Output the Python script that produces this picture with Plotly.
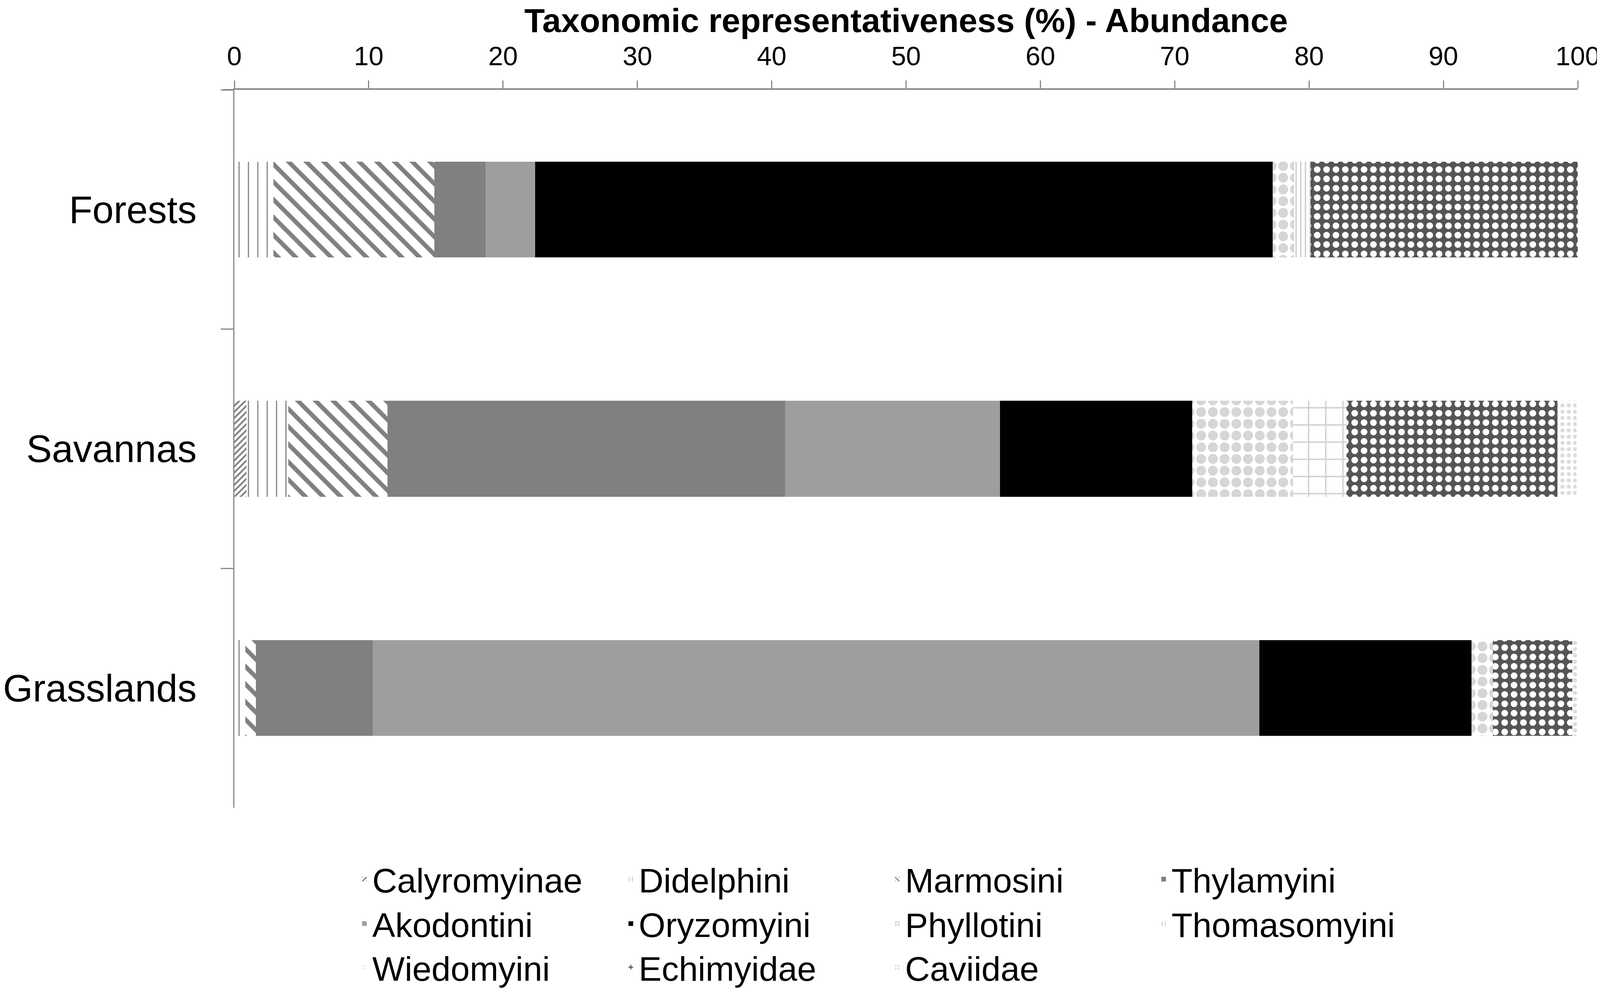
import plotly.graph_objects as go

# habitats, top to bottom
habitats = ["Forests", "Savannas", "Grasslands"]

# abundance share (%) per taxon, in habitat order
calyromyinae = [0.0, 0.9, 0.0]
didelphini = [2.9, 3.1, 0.8]
marmosini = [12.0, 7.4, 0.8]
thylamyini = [3.8, 29.6, 8.7]
akodontini = [3.7, 16.0, 66.0]
oryzomyini = [54.9, 14.3, 15.8]
phyllotini = [1.6, 7.5, 1.6]
thomasomyini = [1.2, 0.0, 0.0]
wiedomyini = [0.0, 4.0, 0.0]
echimyidae = [19.9, 15.7, 5.9]
caviidae = [0.0, 1.4, 0.4]

x_ticks = list(range(0, 101, 10))

W, H = 4101, 2545
ML, MR, MT, MB = 592, 70, 222, 479
plot_h = H - MT - MB

# name, values, colour, pattern(shape, fg, bg, size, solidity), legend row
taxa = [
    ("Calyromyinae", calyromyinae, "white", ("/", "#808080", "white", 11, 0.4), "legend"),
    ("Didelphini", didelphini, "white", ("|", "#808080", "white", 24, 0.12), "legend"),
    ("Marmosini", marmosini, "white", ("\\", "#808080", "white", 32, 0.35), "legend"),
    ("Thylamyini", thylamyini, "#808080", None, "legend"),
    ("Akodontini", akodontini, "#9e9e9e", None, "legend2"),
    ("Oryzomyini", oryzomyini, "#000000", None, "legend2"),
    ("Phyllotini", phyllotini, "white", (".", "#d6d6d6", "white", 30, 0.55), "legend2"),
    ("Thomasomyini", thomasomyini, "white", ("|", "#d0d0d0", "white", 12, 0.3), "legend2"),
    ("Wiedomyini", wiedomyini, "white", ("+", "#d0d0d0", "white", 44, 0.15), "legend3"),
    ("Echimyidae", echimyidae, "#555555", (".", "white", "#555555", 24, 0.4), "legend3"),
    ("Caviidae", caviidae, "white", (".", "#dcdcdc", "white", 16, 0.35), "legend3"),
]

fig = go.Figure()
for name, vals, col, pat, leg in taxa:
    marker = dict(color=col, line=dict(width=0))
    if pat:
        marker["pattern"] = dict(shape=pat[0], fgcolor=pat[1], bgcolor=pat[2],
                                 size=pat[3], solidity=pat[4], fillmode="replace")
    fig.add_trace(go.Bar(x=vals, y=habitats, orientation="h", name=name,
                         marker=marker, legend=leg))

def row_legend(y_px):
    return dict(orientation="h", traceorder="normal",
                x=0.091, xanchor="left", y=-(y_px - (H - MB)) / plot_h, yanchor="middle",
                entrywidth=637, font=dict(family="Liberation Sans", size=88, color="black"),
                bgcolor="rgba(0,0,0,0)", itemwidth=30)

fig.update_layout(
    width=W, height=H,
    barmode="stack", bargap=0.6,
    plot_bgcolor="white", paper_bgcolor="white",
    margin=dict(l=ML, r=MR, t=MT, b=MB),
    font=dict(family="Liberation Sans", color="black"),
    title=dict(text="<b>Taxonomic representativeness (%) - Abundance</b>",
               x=0.5, xref="paper", y=1 - 14 / H, yref="container", yanchor="top",
               pad=dict(t=0), automargin=False,
               font=dict(family="Liberation Sans", size=86, color="black")),
    xaxis=dict(side="top", range=[0, 100], tickvals=x_ticks, ticks="outside",
               ticklen=20, tickwidth=3, tickcolor="#888888", showline=True,
               linecolor="#888888", linewidth=4, showgrid=False, zeroline=False,
               automargin=False,
               tickfont=dict(size=68, color="black"), ticklabelstandoff=12),
    yaxis=dict(autorange="reversed", ticks="outside", tickson="boundaries",
               ticklen=32, tickwidth=3, tickcolor="#888888", showline=True,
               linecolor="#888888", linewidth=3, showgrid=False, automargin=False,
               tickfont=dict(size=98, color="black"), ticklabelstandoff=74),
    legend=row_legend(2250),
    legend2=row_legend(2364),
    legend3=row_legend(2476),
)

# x axis line runs a little past the y axis, as in the original
fig.add_shape(type="line", xref="paper", yref="paper", x0=-30 / (W - ML - MR), x1=0,
              y0=1, y1=1, line=dict(color="#888888", width=4))

fig.write_html("out.html")
